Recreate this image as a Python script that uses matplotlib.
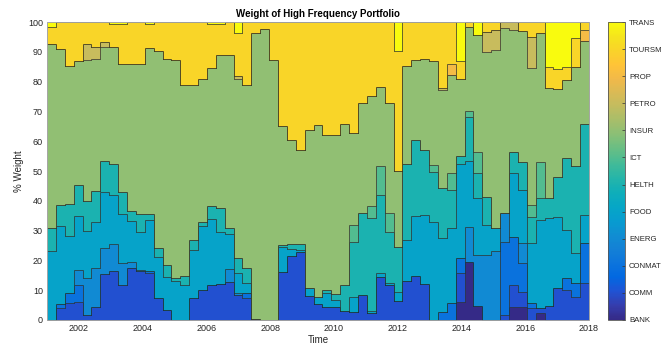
import numpy as np
import matplotlib
matplotlib.use("Agg")
import matplotlib.pyplot as plt
from matplotlib.colors import LinearSegmentedColormap, Normalize
from matplotlib.cm import ScalarMappable

plt.rcParams["font.family"] = ["Liberation Sans", "DejaVu Sans"]

# parula: every 3rd row of the 64-row table (rows 0, 3, ..., 63)
PARULA = [
    (0.2081, 0.1663, 0.5292), (0.2081, 0.2386, 0.6771), (0.1253, 0.3242, 0.8303),
    (0.0060, 0.4086, 0.8828), (0.0498, 0.4586, 0.8641), (0.0779, 0.5040, 0.8384),
    (0.0641, 0.5570, 0.8240), (0.0265, 0.6137, 0.8135), (0.0228, 0.6535, 0.7768),
    (0.0590, 0.6838, 0.7254), (0.1453, 0.7098, 0.6646), (0.2586, 0.7317, 0.5954),
    (0.3953, 0.7459, 0.5244), (0.5300, 0.7491, 0.4661), (0.6473, 0.7456, 0.4188),
    (0.7525, 0.7384, 0.3768), (0.8507, 0.7299, 0.3360), (0.9450, 0.7261, 0.2886),
    (0.9990, 0.7653, 0.2164), (0.9789, 0.8271, 0.1633), (0.9589, 0.8949, 0.1132),
    (0.9763, 0.9831, 0.0538),
]
parula = LinearSegmentedColormap.from_list("parula", PARULA, N=256)

sectors = ["BANK", "COMM", "CONMAT", "ENERG", "FOOD", "HELTH",
           "ICT", "INSUR", "PETRO", "PROP", "TOURSM", "TRANS"]

n_steps = 61
start_year, end_year = 2001, 2018

bank = [0] * 46 + [6.2, 19.6, 4.7, 0, 0, 0, 4.5, 4.5, 0, 2.2, 0, 0, 0, 0, 0]
comm = [0, 4.0, 5.7, 5.9, 1.8, 4.4, 15.3, 16.6, 11.9, 17.5, 16.5, 15.8, 7.3, 3.2, 0, 0,
        7.4, 10.1, 11.9, 12.1, 12.8, 8.3, 7.4, 0.3, 0, 0, 16.1, 21.5, 22.7, 8.2, 5.3, 4.5,
        4.5, 3.1, 2.6, 8.5, 2.2, 14.3, 11.9, 6.3, 13.0, 14.7, 12.0, 0, 0, 0, 9.5, 0,
        0, 0, 0, 1.7, 7.2, 5.0, 3.9, 1.7, 4.7, 10.6, 10.1, 7.6, 12.3]
conmat = [0, 1.4, 3.4, 6.0, 0, 0, 0, 0, 0, 0, 0, 0.5, 0, 0, 0, 0,
          0, 0, 0, 0, 0, 0, 1.8, 0, 0, 0, 0, 0, 0, 0, 0, 0,
          0, 0, 0, 0, 0, 0, 0, 0, 0, 0, 0, 0, 2.8, 5.6, 5.0, 0,
          0, 0, 0, 24.6, 16.3, 9.5, 1.7, 0, 0, 0, 3.9, 4.7, 13.4]
energ = [0, 0, 0, 4.9, 12.4, 13.0, 9.0, 8.8, 7.3, 1.9, 0.2, 0, 0, 0, 0, 0,
         0, 0, 0, 0, 4.2, 0.7, 0, 0, 0, 0, 0, 0, 0, 0, 0, 0,
         0, 0, 0, 0, 0, 0, 0, 0, 0, 0, 0, 0, 0, 0, 0, 11.7,
         17.1, 21.8, 23.0, 9.5, 0, 6.7, 0, 0, 0, 0, 0, 0, 0]
food = [23.2, 26.1, 19.1, 18.1, 15.7, 15.5, 18.5, 16.5, 16.3, 13.9, 12.9, 17.2, 13.8, 11.3, 13.0, 11.9,
        16.1, 21.3, 21.9, 17.4, 12.0, 6.8, 3.3, 0, 0, 0, 8.5, 2.3, 0.7, 2.4, 2.3, 4.4,
        2.3, 0, 5.0, 0, 0.7, 1.5, 0.5, 3.1, 13.8, 20.1, 23.3, 32.9, 24.6, 25.2, 31.6, 22.1,
        19.0, 10.1, 7.8, 0, 21.2, 17.9, 20.1, 29.7, 29.4, 24.1, 16.2, 10.1, 9.5]
helth = [7.7, 7.0, 10.8, 10.5, 9.9, 10.5, 10.6, 10.3, 7.5, 3.3, 5.9, 2.2, 3.0, 3.8, 1.2, 3.0,
         3.3, 1.4, 4.5, 8.1, 1.8, 5.1, 4.8, 0, 0, 0, 0.6, 1.8, 2.2, 0.2, 0.2, 1.3,
         1.8, 8.8, 18.6, 27.4, 31.3, 26.0, 17.0, 15.0, 25.5, 25.7, 21.9, 16.7, 16.8, 12.8, 2.8, 14.8,
         8.4, 9.5, 0, 0, 7.3, 9.5, 9.0, 7.2, 6.7, 13.4, 24.1, 29.3, 30.6]
ict = [0, 0, 0, 0, 0, 0, 0, 0, 0, 0, 0, 0, 0, 0, 0, 0,
       0, 0, 0, 0, 0, 0, 0, 0, 0, 0, 0, 0, 0, 0, 0, 0,
       0, 0, 5.6, 0, 4.2, 9.8, 6.5, 0, 0, 0, 0, 2.5, 0, 5.8, 0, 2.0,
       7.3, 0, 0, 0, 0, 0, 3.9, 12.3, 0, 0, 0, 0, 0]
insur = [61.8, 52.5, 46.1, 41.5, 47.4, 44.2, 38.3, 39.5, 42.8, 49.4, 50.4, 55.5, 66.1, 69.4, 73.0, 64.0,
         52.1, 48.0, 46.4, 51.2, 58.2, 60.1, 61.7, 95.9, 97.8, 87.4, 39.8, 34.9, 31.3, 53.1, 57.5, 51.8,
         53.4, 53.9, 31.0, 37.1, 36.7, 26.7, 36.8, 25.5, 33.1, 26.8, 30.5, 34.8, 33.0, 32.8, 25.9, 28.3,
         39.1, 48.6, 59.8, 62.2, 41.0, 44.0, 46.0, 43.2, 37.1, 29.4, 26.4, 33.1, 27.9]
petro = [0, 0, 0, 0, 5.6, 4.2, 1.7, 0, 0, 0, 0, 0, 0, 0, 0, 0,
         0, 0, 0, 0, 0, 0.8, 0, 0, 0, 0, 0, 0, 0, 0, 0, 0,
         0, 0, 0, 0, 0, 0, 0, 0, 0, 0, 0, 0, 0.6, 0, 0, 0,
         0, 6.7, 6.6, 2.0, 2.5, 0, 10.5, 0, 0, 0, 0, 0, 0]
prop = [0] * 45 + [3.6] + [0] * 14 + [3.7]
toursm = [5.6, 9.0, 14.9, 13.1, 7.2, 8.2, 6.6, 7.6, 13.5, 14.0, 14.1, 8.2, 9.8, 12.3, 12.8, 21.1,
          21.1, 19.2, 14.7, 10.6, 11.0, 14.7, 21.0, 3.8, 2.2, 12.6, 35.0, 39.5, 43.1, 36.1, 34.7, 38.0,
          38.0, 34.2, 37.2, 27.0, 24.9, 21.7, 27.3, 40.3, 14.6, 12.7, 12.3, 13.1, 22.2, 14.2, 5.8, 1.5,
          0, 3.3, 2.8, 0, 0, 2.9, 4.9, 3.7, 6.9, 6.8, 4.1, 9.8, 2.6]
trans = [1.7, 0, 0, 0, 0, 0, 0, 0.7, 0.7, 0, 0, 0.6, 0, 0, 0, 0,
         0, 0, 0.6, 0.6, 0, 3.5, 0, 0, 0, 0, 0, 0, 0, 0, 0, 0,
         0, 0, 0, 0, 0, 0, 0, 9.8, 0, 0, 0, 0, 0, 0, 13.2, 0,
         4.4, 0, 0, 0, 0, 0, 0, 0, 15.2, 15.7, 15.2, 5.4, 0]

weights = [bank, comm, conmat, energ, food, helth, ict, insur, petro, prop, toursm, trans]
year_ticks = [2002, 2004, 2006, 2008, 2010, 2012, 2014, 2016, 2018]
pct_ticks = [0, 10, 20, 30, 40, 50, 60, 70, 80, 90, 100]

edges = start_year + np.arange(n_steps + 1) * (end_year - start_year) / n_steps

fig = plt.figure(figsize=(6.65, 3.45), dpi=100)
ax = fig.add_axes([0.0707, 0.0725, 0.815, 0.8635])

base = np.zeros(n_steps)
for k, w in enumerate(weights):
    top = base + np.asarray(w, dtype=float)
    ax.fill_between(edges, np.append(base, base[-1]), np.append(top, top[-1]),
                    step="post", facecolor=parula(k / (len(sectors) - 1)),
                    edgecolor=(0.12, 0.12, 0.12, 0.55), linewidth=0.7)
    base = top

txt = "#262626"
ax.set_xlim(start_year, end_year)
ax.set_ylim(0, 100)
ax.set_xticks(year_ticks)
ax.set_yticks(pct_ticks)
ax.tick_params(length=0, labelsize=6.5, labelcolor=txt, pad=3)
for s in ax.spines.values():
    s.set_color("#b0b0b0")
    s.set_linewidth(0.6)
ax.set_xlabel("Time", fontsize=7, color=txt, labelpad=1)
ax.set_ylabel("% Weight", fontsize=7, color=txt, labelpad=3)
ax.set_title("Weight of High Frequency Portfolio", fontsize=7, fontweight="bold",
             color="black", pad=4)

cax = fig.add_axes([0.9143, 0.0725, 0.0263, 0.8635])
sm = ScalarMappable(norm=Normalize(0, len(sectors) - 1), cmap=parula)
cb = fig.colorbar(sm, cax=cax, ticks=range(len(sectors)))
cb.ax.set_yticklabels(sectors)
cb.ax.tick_params(direction="in", length=2, width=0.5, labelsize=5.6,
                  labelcolor=txt, color="#333333", pad=2.5)
cb.outline.set_linewidth(0.6)
cb.outline.set_edgecolor("#555555")

fig.savefig("out.png", dpi=100)
